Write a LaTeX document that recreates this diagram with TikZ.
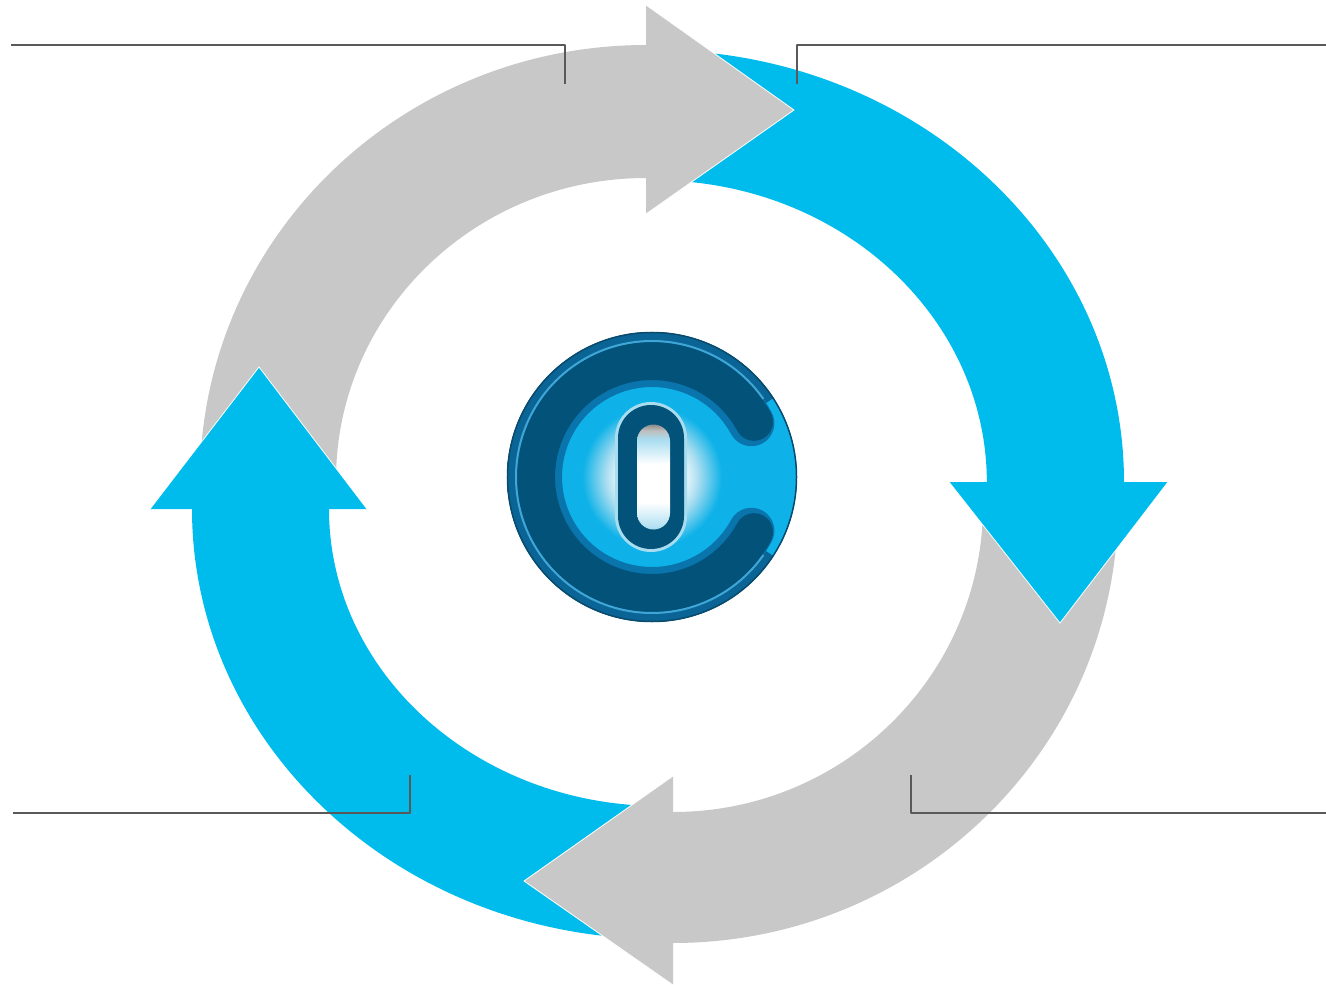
\documentclass[tikz,border=0pt]{standalone}
\definecolor{cycleblue}{HTML}{00BCEC}
\definecolor{cyclegrey}{HTML}{C8C8C8}
\definecolor{leadgrey}{HTML}{595959}
\definecolor{logodark}{HTML}{02527A}
\definecolor{logoedge}{HTML}{0B4A6B}
\definecolor{logoband}{HTML}{0A6596}
\definecolor{logomid}{HTML}{0A74AC}
\definecolor{logobright}{HTML}{0FB2E8}
\definecolor{logoring}{HTML}{3FA6D6}
\definecolor{logopale}{HTML}{A8DDF0}
\pgfdeclareradialshading{logoglow}{\pgfpoint{0bp}{0bp}}{
  color(0bp)=(white); color(5bp)=(white); color(8bp)=(logopale); color(12bp)=(logobright); color(50bp)=(logobright)}
\pgfdeclareverticalshading{pillglow}{100bp}{
  color(0bp)=(logopale); color(25bp)=(logopale); color(38bp)=(white); color(56bp)=(white);
  color(68bp)=(logopale); color(72bp)=(black!25!white); color(75bp)=(black!45!white); color(100bp)=(black!45!white)}
\begin{document}
\begin{tikzpicture}[
  x=1pt, y=-1pt,
  tail/.style={fill=#1, draw=none},
  head/.style={fill=#1, draw=white, line width=0.8pt, line join=miter},
  leader/.style={draw=leadgrey, line width=2pt, line join=round},
]
\useasboundingbox (0,0) rectangle (1326,985);

% ── Tails ──
\fill[tail=cycleblue] (1124,482) arc[start angle=0, end angle=-85, x radius=469, y radius=432]
  -- (678,181) arc[start angle=-86, end angle=0, x radius=332, y radius=302] -- cycle;
\fill[tail=cyclegrey] (673,943) arc[start angle=90, end angle=2, x radius=445, y radius=438]
  -- (983,505) arc[start angle=0, end angle=90, x radius=310, y radius=307] -- cycle;
\fill[tail=cycleblue] (192,509) arc[start angle=180, end angle=94, x radius=468, y radius=430]
  -- (660,806) arc[start angle=90, end angle=180, x radius=331, y radius=297] -- cycle;
\fill[tail=cyclegrey] (646,45) arc[start angle=-90, end angle=-178, x radius=446, y radius=435]
  -- (336,480) arc[start angle=-180, end angle=-90, x radius=310, y radius=302] -- cycle;

% ── Heads ──
\filldraw[head=cyclegrey] (646,5) -- (794,110) -- (646,214);
\filldraw[head=cycleblue] (949,482) -- (1060,623) -- (1168,482);
\filldraw[head=cyclegrey] (673,776) -- (524,881) -- (673,985);
\filldraw[head=cycleblue] (150,509) -- (259,367) -- (367,509);

% ── Leaders ──
\coordinate (tlstart) at (11,45);
\coordinate (tlend) at (565,84);
\coordinate (trstart) at (1326,45);
\coordinate (trend) at (797,84);
\coordinate (blstart) at (13,813);
\coordinate (blend) at (410,775);
\coordinate (brstart) at (1326,813);
\coordinate (brend) at (911,775);
\draw[leader] (tlstart) -| (tlend);
\draw[leader] (trstart) -| (trend);
\draw[leader] (blstart) -| (blend);
\draw[leader] (brstart) -| (brend);

% ── Logo ──
\coordinate (logo) at (652,477);
\shade[shading=logoglow] (logo) circle[radius=145];
\fill[logoband] (logo) ++(-33:145) arc[start angle=-33, end angle=-327, radius=145]
  -- ++(-327:-32) arc[start angle=-327, end angle=-33, radius=113] -- cycle;
\draw[logomid, line width=46pt, line cap=round] (logo) ++(-28.4:113)
  arc[start angle=-28.4, end angle=-331.6, radius=113];
\draw[logodark, line width=38pt, line cap=round] (logo) ++(-28.4:116)
  arc[start angle=-28.4, end angle=-331.6, radius=116];
\draw[logoring, line width=2pt] (logo) ++(-35:136) arc[start angle=-35, end angle=-325, radius=136];
\draw[logoedge, line width=1.5pt] (logo) circle[radius=144.5];
\fill[logopale] (615,438) arc[start angle=180, end angle=360, radius=36]
  -- (687,516) arc[start angle=0, end angle=180, radius=36] -- cycle;
\fill[logodark] (618,438) arc[start angle=180, end angle=360, radius=33]
  -- (684,516) arc[start angle=0, end angle=180, radius=33] -- cycle;
\shade[shading=pillglow]
  (637,441) arc[start angle=180, end angle=360, radius=16.5]
  -- (670,513) arc[start angle=0, end angle=180, radius=16.5] -- cycle;
\end{tikzpicture}
\end{document}
